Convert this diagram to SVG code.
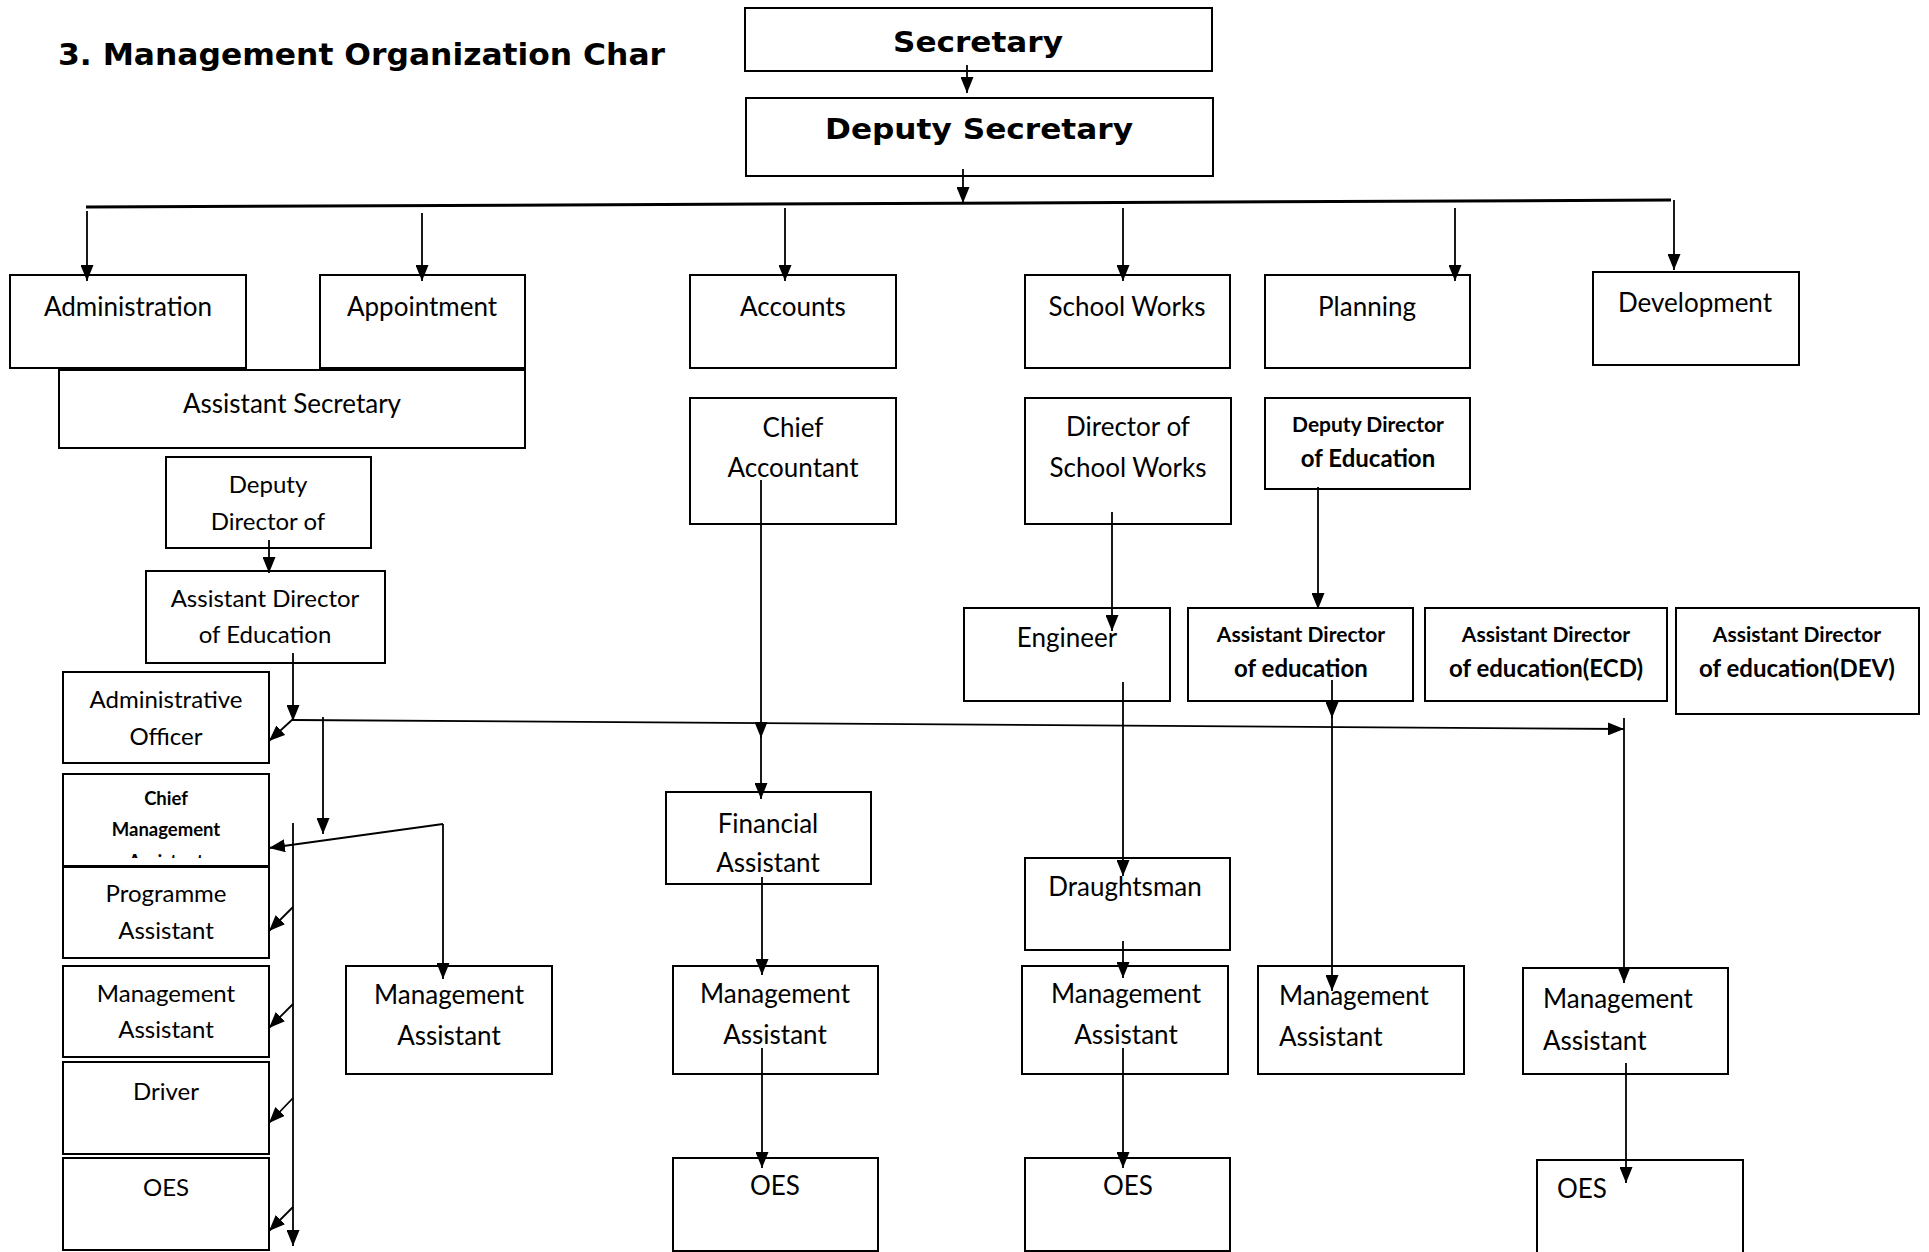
<svg xmlns="http://www.w3.org/2000/svg" width="1929" height="1252" viewBox="0 0 1929 1252">
  <style>
    .box { fill: #fff; stroke: #000; stroke-width: 2; }
    .t { font-family: Lato, "Liberation Sans", sans-serif; font-size: 26px; fill: #000; text-anchor: middle; }
    .s { font-size: 24px; }
    .l { text-anchor: start; }
    .b { font-weight: bold; }
    .b21 { font-size: 21px; }
    .b24 { font-size: 24px; }
    .b18 { font-size: 18.5px; }
    .hd { font-family: "DejaVu Sans", "Liberation Sans", sans-serif; font-weight: bold; fill: #000; }
    .c { fill: none; stroke: #000; stroke-width: 1.8; }
    .a { marker-end: url(#ah); }
    .bus { fill: none; stroke: #000; stroke-width: 3; }
  </style>
  <defs>
    <marker id="ah" viewBox="0 0 16 13" refX="16" refY="6.5" markerWidth="16" markerHeight="13" orient="auto" markerUnits="userSpaceOnUse">
      <path d="M0,0 L16,6.5 L0,13 z" fill="#000"/>
    </marker>
    <clipPath id="cmClip">
      <rect x="63" y="774" width="206" height="84"/>
    </clipPath>
  </defs>

  <rect width="1929" height="1252" fill="#fff"/>

  <text class="hd" x="58" y="65" font-size="31" textLength="607" lengthAdjust="spacingAndGlyphs">3. Management Organization Char</text>

  <!-- nodes -->
  <g id="secretary">
    <rect class="box" x="745" y="8" width="467" height="63"/>
    <text class="hd" x="893" y="52" font-size="28" textLength="170" lengthAdjust="spacingAndGlyphs">Secretary</text>
  </g>
  <g id="deputy-secretary">
    <rect class="box" x="746" y="98" width="467" height="78"/>
    <text class="hd" x="825" y="139" font-size="28" textLength="308" lengthAdjust="spacingAndGlyphs">Deputy Secretary</text>
  </g>

  <g id="administration">
    <rect class="box" x="10" y="275" width="236" height="93"/>
    <text class="t" x="128" y="316">Administration</text>
  </g>
  <g id="appointment">
    <rect class="box" x="320" y="275" width="205" height="93"/>
    <text class="t" x="422" y="316">Appointment</text>
  </g>
  <g id="accounts">
    <rect class="box" x="690" y="275" width="206" height="93"/>
    <text class="t" x="793" y="316">Accounts</text>
  </g>
  <g id="school-works">
    <rect class="box" x="1025" y="275" width="205" height="93"/>
    <text class="t" x="1127" y="316">School Works</text>
  </g>
  <g id="planning">
    <rect class="box" x="1265" y="275" width="205" height="93"/>
    <text class="t" x="1367" y="316">Planning</text>
  </g>
  <g id="development">
    <rect class="box" x="1593" y="272" width="206" height="93"/>
    <text class="t" x="1695" y="312">Development</text>
  </g>

  <g id="assistant-secretary">
    <rect class="box" x="59" y="370" width="466" height="78"/>
    <text class="t" x="292" y="413">Assistant Secretary</text>
  </g>
  <g id="deputy-director-admin">
    <rect class="box" x="166" y="457" width="205" height="91"/>
    <text class="t s" x="268" y="493">Deputy</text>
    <text class="t s" x="268" y="530">Director of</text>
  </g>
  <g id="assistant-director-admin">
    <rect class="box" x="146" y="571" width="239" height="92"/>
    <text class="t s" x="265" y="607">Assistant Director</text>
    <text class="t s" x="265" y="643">of Education</text>
  </g>
  <g id="administrative-officer">
    <rect class="box" x="63" y="672" width="206" height="91"/>
    <text class="t s" x="166" y="708">Administrative</text>
    <text class="t s" x="166" y="745">Officer</text>
  </g>
  <g id="chief-management-assistant">
    <rect class="box" x="63" y="774" width="206" height="92"/>
    <text class="t b b18" x="166" y="805">Chief</text>
    <text class="t b b18" x="166" y="836">Management</text>
    <text class="t b b18" x="166" y="868" clip-path="url(#cmClip)">Assistant</text>
  </g>
  <g id="programme-assistant">
    <rect class="box" x="63" y="867" width="206" height="91"/>
    <text class="t s" x="166" y="902">Programme</text>
    <text class="t s" x="166" y="939">Assistant</text>
  </g>
  <g id="management-assistant-admin">
    <rect class="box" x="63" y="966" width="206" height="91"/>
    <text class="t s" x="166" y="1002">Management</text>
    <text class="t s" x="166" y="1038">Assistant</text>
  </g>
  <g id="driver">
    <rect class="box" x="63" y="1062" width="206" height="92"/>
    <text class="t s" x="166" y="1100">Driver</text>
  </g>
  <g id="oes-admin">
    <rect class="box" x="63" y="1158" width="206" height="92"/>
    <text class="t s" x="166" y="1196">OES</text>
  </g>
  <g id="management-assistant-appointment">
    <rect class="box" x="346" y="966" width="206" height="108"/>
    <text class="t" x="449" y="1004">Management</text>
    <text class="t" x="449" y="1045">Assistant</text>
  </g>

  <g id="chief-accountant">
    <rect class="box" x="690" y="398" width="206" height="126"/>
    <text class="t" x="793" y="437">Chief</text>
    <text class="t" x="793" y="477">Accountant</text>
  </g>
  <g id="financial-assistant">
    <rect class="box" x="666" y="792" width="205" height="92"/>
    <text class="t" x="768" y="833">Financial</text>
    <text class="t" x="768" y="872">Assistant</text>
  </g>
  <g id="management-assistant-accounts">
    <rect class="box" x="673" y="966" width="205" height="108"/>
    <text class="t" x="775" y="1003">Management</text>
    <text class="t" x="775" y="1044">Assistant</text>
  </g>
  <g id="oes-accounts">
    <rect class="box" x="673" y="1158" width="205" height="93"/>
    <text class="t" x="775" y="1195">OES</text>
  </g>

  <g id="director-school-works">
    <rect class="box" x="1025" y="398" width="206" height="126"/>
    <text class="t" x="1128" y="436">Director of</text>
    <text class="t" x="1128" y="477">School Works</text>
  </g>
  <g id="engineer">
    <rect class="box" x="964" y="608" width="206" height="93"/>
    <text class="t" x="1067" y="647">Engineer</text>
  </g>
  <g id="draughtsman">
    <rect class="box" x="1025" y="858" width="205" height="92"/>
    <text class="t" x="1125" y="896">Draughtsman</text>
  </g>
  <g id="management-assistant-school-works">
    <rect class="box" x="1022" y="966" width="206" height="108"/>
    <text class="t" x="1126" y="1003">Management</text>
    <text class="t" x="1126" y="1044">Assistant</text>
  </g>
  <g id="oes-school-works">
    <rect class="box" x="1025" y="1158" width="205" height="93"/>
    <text class="t" x="1128" y="1195">OES</text>
  </g>

  <g id="deputy-director-education">
    <rect class="box" x="1265" y="398" width="205" height="91"/>
    <text class="t b b21" x="1368" y="432">Deputy Director</text>
    <text class="t b b24" x="1368" y="467">of Education</text>
  </g>
  <g id="assistant-director-education">
    <rect class="box" x="1188" y="608" width="225" height="93"/>
    <text class="t b b21" x="1301" y="642">Assistant Director</text>
    <text class="t b b24" x="1301" y="677">of education</text>
  </g>
  <g id="assistant-director-ecd">
    <rect class="box" x="1425" y="608" width="242" height="93"/>
    <text class="t b b21" x="1546" y="642">Assistant Director</text>
    <text class="t b b24" x="1546" y="677">of education(ECD)</text>
  </g>
  <g id="assistant-director-dev">
    <rect class="box" x="1676" y="608" width="243" height="106"/>
    <text class="t b b21" x="1797" y="642">Assistant Director</text>
    <text class="t b b24" x="1797" y="677">of education(DEV)</text>
  </g>
  <g id="management-assistant-planning">
    <rect class="box" x="1258" y="966" width="206" height="108"/>
    <text class="t l" x="1279" y="1005">Management</text>
    <text class="t l" x="1279" y="1046">Assistant</text>
  </g>
  <g id="management-assistant-development">
    <rect class="box" x="1523" y="968" width="205" height="106"/>
    <text class="t l" x="1543" y="1008">Management</text>
    <text class="t l" x="1543" y="1050">Assistant</text>
  </g>
  <g id="oes-development">
    <rect class="box" x="1537" y="1160" width="206" height="100"/>
    <text class="t l" x="1557" y="1198">OES</text>
  </g>

  <!-- connectors, drawn over the boxes -->
  <g id="connectors">
    <line class="c a" x1="967" y1="65" x2="967" y2="93"/>
    <line class="c a" x1="963" y1="169" x2="963" y2="203"/>
    <line class="bus" x1="86" y1="207" x2="1671" y2="200"/>
    <line class="c a" x1="87" y1="211" x2="87" y2="281"/>
    <line class="c a" x1="422" y1="213" x2="422" y2="281"/>
    <line class="c a" x1="785" y1="208" x2="785" y2="281"/>
    <line class="c a" x1="1123" y1="208" x2="1123" y2="281"/>
    <line class="c a" x1="1455" y1="208" x2="1455" y2="281"/>
    <line class="c a" x1="1674" y1="200" x2="1674" y2="270"/>

    <!-- administration branch -->
    <line class="c a" x1="269" y1="540" x2="269" y2="573"/>
    <line class="c a" x1="293" y1="653" x2="293" y2="721"/>
    <line class="c a" x1="293" y1="719" x2="269" y2="741"/>
    <line class="c a" x1="293" y1="720" x2="1624" y2="729"/>
    <line class="c a" x1="323" y1="717" x2="323" y2="834"/>
    <line class="c a" x1="293" y1="823" x2="293" y2="1246"/>
    <line class="c a" x1="443" y1="824" x2="269" y2="848"/>
    <line class="c a" x1="443" y1="824" x2="443" y2="979"/>
    <line class="c a" x1="293" y1="907" x2="269" y2="931"/>
    <line class="c a" x1="293" y1="1004" x2="269" y2="1028"/>
    <line class="c a" x1="293" y1="1098" x2="269" y2="1123"/>
    <line class="c a" x1="293" y1="1207" x2="269" y2="1231"/>

    <!-- accounts branch -->
    <line class="c a" x1="761" y1="480" x2="761" y2="738"/>
    <line class="c a" x1="761" y1="736" x2="761" y2="799"/>
    <line class="c a" x1="762" y1="877" x2="762" y2="975"/>
    <line class="c a" x1="762" y1="1048" x2="762" y2="1168"/>

    <!-- school works branch -->
    <line class="c a" x1="1112" y1="512" x2="1112" y2="631"/>
    <line class="c a" x1="1123" y1="682" x2="1123" y2="876"/>
    <line class="c a" x1="1123" y1="941" x2="1123" y2="978"/>
    <line class="c a" x1="1123" y1="1048" x2="1123" y2="1168"/>

    <!-- planning branch -->
    <line class="c a" x1="1318" y1="487" x2="1318" y2="609"/>
    <line class="c a" x1="1332" y1="680" x2="1332" y2="718"/>
    <line class="c a" x1="1332" y1="716" x2="1332" y2="991"/>
    <line class="c a" x1="1624" y1="718" x2="1624" y2="983"/>
    <line class="c a" x1="1626" y1="1063" x2="1626" y2="1183"/>
  </g>
</svg>
